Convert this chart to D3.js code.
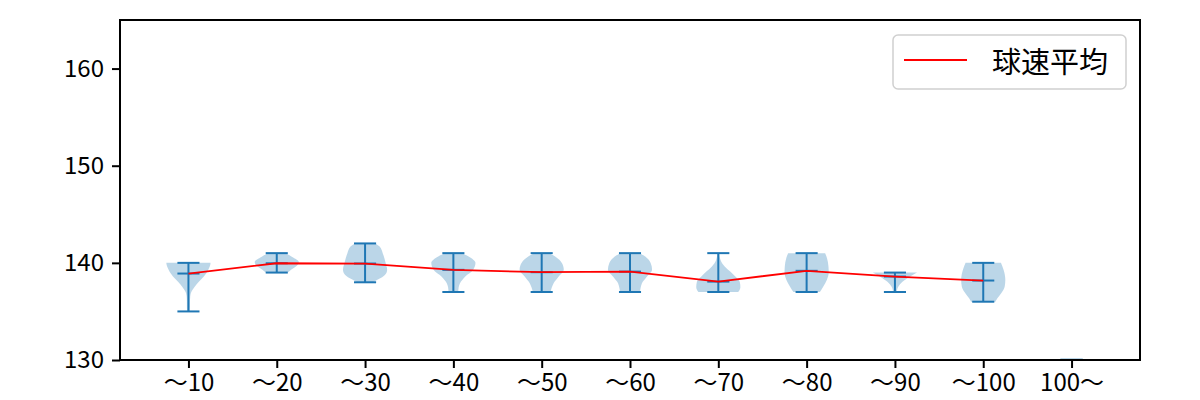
<!DOCTYPE html>
<html>
<head>
<meta charset="utf-8">
<script src="https://cdn.jsdelivr.net/npm/d3@7"></script>
<style>
  html, body { margin: 0; padding: 0; background: #fff; }
  svg { display: block; }
</style>
</head>
<body>
<svg id="chart" width="1200" height="400"></svg>
<script>
// ---- data ----
const categories = ["～10", "～20", "～30", "～40", "～50", "～60", "～70", "～80", "～90", "～100", "100～"];
const maxVals  = [140, 141, 142, 141, 141, 141, 141, 141, 139, 140, null];
const minVals  = [135, 139, 138, 137, 137, 137, 137, 137, 137, 136, null];
const meanVals = [138.9, 139.96, 139.93, 139.28, 139.04, 139.1, 138.07, 139.18, 138.59, 138.18, null];
// density profiles: [speed, relative half-width]
const densities = [
  [[135,0.06],[135.5,0.07],[136,0.07],[136.5,0.08],[136.9,0.11],[137.2,0.18],[137.6,0.3],[138,0.45],[138.3,0.58],[138.9,0.8],[139.4,0.92],[139.8,0.99],[140,1.0]],
  [[139,0.5],[139.3,0.65],[139.6,0.85],[140.1,1.0],[140.6,0.7],[141,0.42]],
  [[138,0.35],[138.3,0.6],[138.75,0.9],[139.3,1.0],[140.1,0.92],[141,0.8],[141.7,0.65],[142,0.46]],
  [[137,0.22],[137.5,0.24],[137.9,0.3],[138.6,0.54],[139.3,0.9],[140,1.0],[140.65,0.69],[141,0.4]],
  [[137,0.4],[137.4,0.45],[137.9,0.54],[138.6,0.77],[139.3,1.0],[139.96,0.92],[140.65,0.61],[141,0.35]],
  [[137,0.45],[137.4,0.48],[137.9,0.54],[138.6,0.77],[139.3,1.0],[139.96,0.94],[140.65,0.69],[141,0.45]],
  [[137,0.9],[137.5,1.0],[138.05,0.97],[138.6,0.77],[139.1,0.54],[139.6,0.3],[140.3,0.1],[141,0.04]],
  [[137,0.6],[137.55,0.75],[138.25,0.92],[139.05,1.0],[139.6,0.99],[140.5,0.92],[141,0.84]],
  [[137,0.08],[137.55,0.15],[138.05,0.34],[138.6,0.69],[139,1.0]],
  [[136,0.55],[136.35,0.64],[136.9,0.82],[137.55,0.97],[138.25,1.0],[139.3,0.92],[140,0.8]],
  [[127,1.0],[130.2,0.5]]
];
const yTicks = [130, 140, 150, 160];
const legendLabel = "球速平均";

// ---- layout ----
const M = { left: 120, right: 1140, top: 20, bottom: 360 };
const FONT = "'Noto Sans CJK JP', 'Noto Sans', sans-serif";
const blue = "#1f77b4";
const violinWidth = 0.5;

const svg = d3.select("#chart");
const x = d3.scaleLinear().domain([0.225, 11.775]).range([M.left, M.right]);
const y = d3.scaleLinear().domain([130, 165]).range([M.bottom, M.top]);

svg.append("defs").append("clipPath").attr("id", "clip")
  .append("rect").attr("x", M.left).attr("y", M.top).attr("width", M.right - M.left).attr("height", M.bottom - M.top);

const plot = svg.append("g").attr("clip-path", "url(#clip)");

// violin bodies
const halfW = x(1 + violinWidth / 2) - x(1);
densities.forEach((prof, i) => {
  const pos = i + 1;
  const area = d3.area()
    .y(d => y(d[0]))
    .x0(d => x(pos) - d[1] * halfW)
    .x1(d => x(pos) + d[1] * halfW)
    .curve(d3.curveMonotoneY);
  plot.append("path")
    .attr("d", area(prof))
    .attr("fill", blue)
    .attr("fill-opacity", 0.3)
    .attr("stroke", "none");
});

// extrema, stems, means
const capHalf = x(1 + violinWidth / 4) - x(1);
const lineG = plot.append("g").attr("stroke", blue).attr("stroke-width", 2).attr("fill", "none");
categories.forEach((c, i) => {
  if (maxVals[i] == null) return;
  const pos = i + 1;
  lineG.append("line").attr("x1", x(pos)).attr("x2", x(pos)).attr("y1", y(minVals[i])).attr("y2", y(maxVals[i]));
  [maxVals[i], minVals[i], meanVals[i]].forEach(v => {
    lineG.append("line").attr("x1", x(pos) - capHalf).attr("x2", x(pos) + capHalf).attr("y1", y(v)).attr("y2", y(v));
  });
});

// mean line
const meanPts = meanVals.map((v, i) => [i + 1, v]).filter(d => d[1] != null);
plot.append("path")
  .attr("d", d3.line().x(d => x(d[0])).y(d => y(d[1]))(meanPts))
  .attr("fill", "none").attr("stroke", "red").attr("stroke-width", 1.8);

// axes
const yAxis = svg.append("g").attr("transform", `translate(${M.left},0)`)
  .call(d3.axisLeft(y).tickValues(yTicks).tickSize(8).tickPadding(8).tickFormat(d3.format("d")));
const xAxis = svg.append("g").attr("transform", `translate(0,${M.bottom})`)
  .call(d3.axisBottom(x).tickValues(d3.range(1, categories.length + 1)).tickSize(8).tickPadding(6).tickFormat(d => categories[d - 1]));
[yAxis, xAxis].forEach(a => {
  a.select(".domain").remove();
  a.selectAll(".tick line").attr("stroke", "#000").attr("stroke-width", 2);
  a.selectAll(".tick text").attr("fill", "#000").style("font-family", FONT).style("font-size", "24px");
});

// frame
svg.append("rect").attr("x", M.left).attr("y", M.top).attr("width", M.right - M.left).attr("height", M.bottom - M.top)
  .attr("fill", "none").attr("stroke", "#000").attr("stroke-width", 2);

// legend
const lg = svg.append("g");
const lgFont = 29;
const txt = lg.append("text").text(legendLabel)
  .style("font-family", FONT).style("font-size", lgFont + "px").attr("fill", "#000");
const boxW = 233;
const boxH = 54;
const boxRight = M.right - 14, boxTop = M.top + 15;
const boxLeft = boxRight - boxW;
lg.insert("rect", "text").attr("x", boxLeft).attr("y", boxTop).attr("width", boxW).attr("height", boxH)
  .attr("rx", 5).attr("fill", "#fff").attr("fill-opacity", 0.8).attr("stroke", "#d0d0d0").attr("stroke-width", 1.5);
lg.append("line").attr("x1", boxLeft + 11).attr("x2", boxLeft + 74).attr("y1", boxTop + 25).attr("y2", boxTop + 25)
  .attr("stroke", "red").attr("stroke-width", 1.8);
txt.attr("x", boxLeft + 99).attr("y", boxTop + 25).attr("dominant-baseline", "central");
</script>
</body>
</html>
